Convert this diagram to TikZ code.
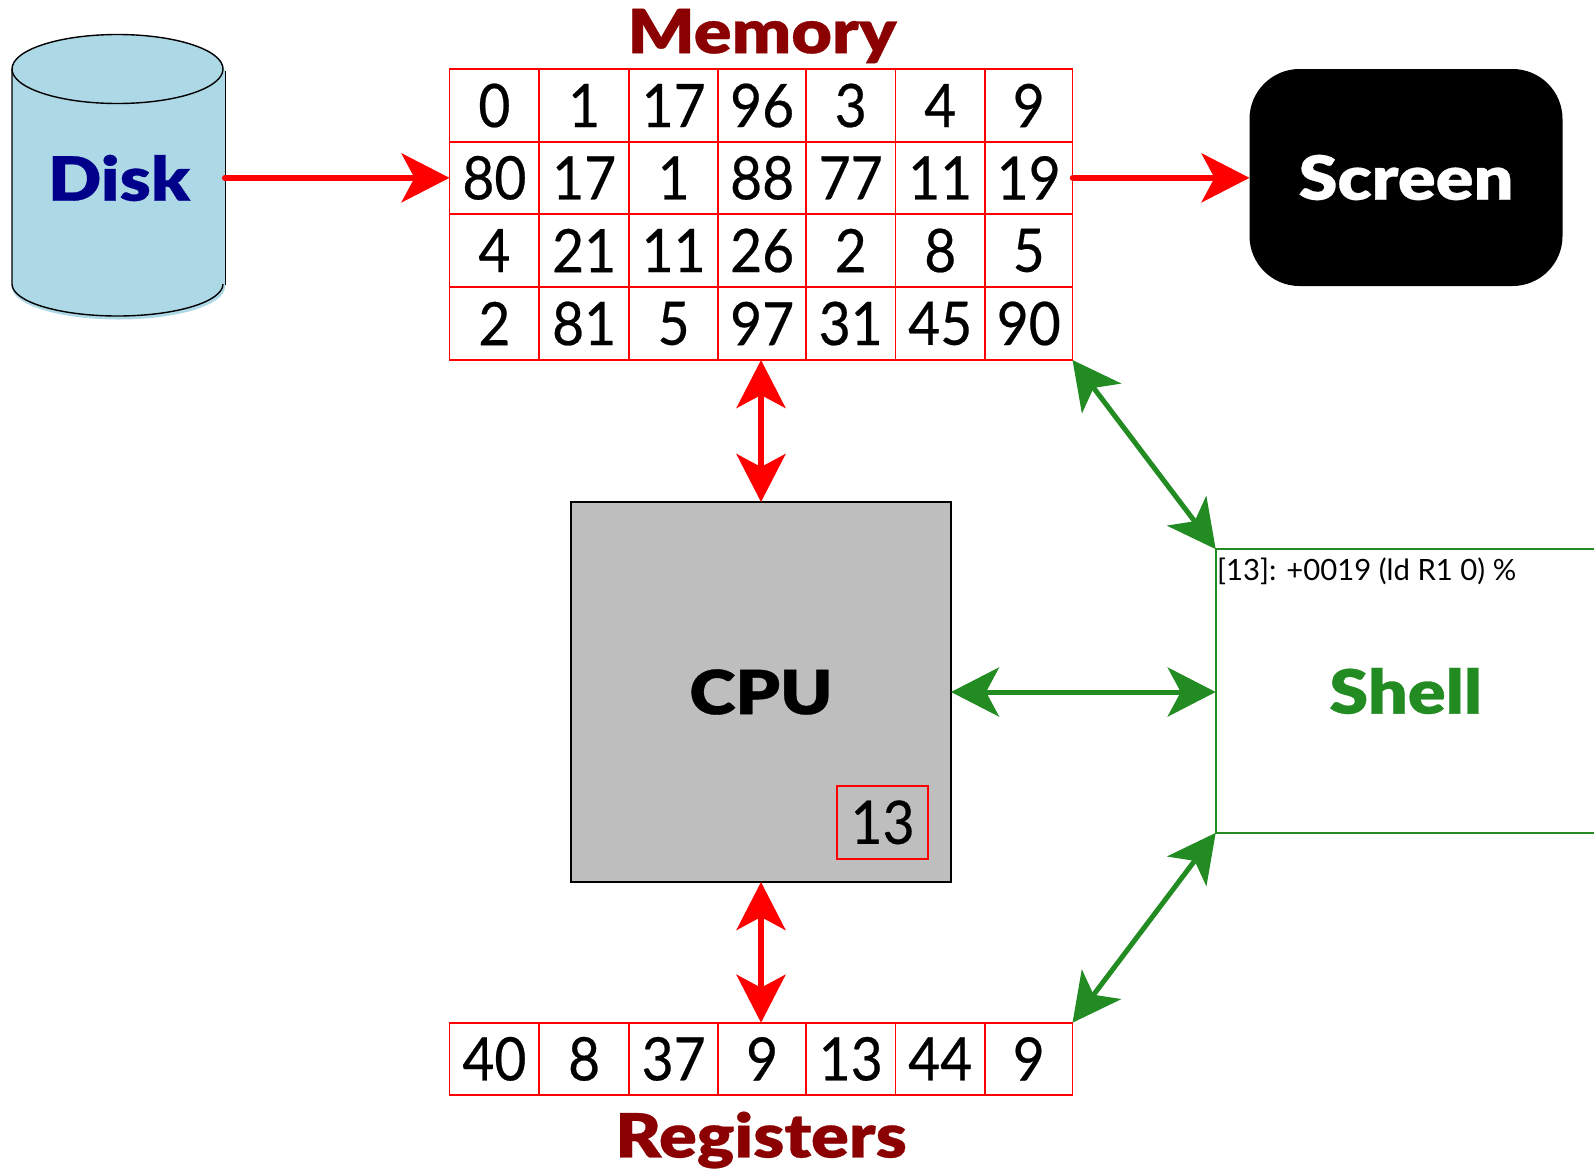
\documentclass[tikz,border=0pt]{standalone}
\usepackage{fontspec}
\usetikzlibrary{arrows.meta}
\setmainfont{Lato}
\newfontfamily\digitfont[FakeStretch=0.92,FakeBold=0.4]{Lato}
\newfontfamily\titlefont[FakeStretch=1.15,FakeBold=0.5]{Lato Black}
\definecolor{diskblue}{HTML}{ADD8E6}
\definecolor{diskink}{HTML}{00008B}
\definecolor{memink}{HTML}{8B0000}
\definecolor{shellgreen}{HTML}{228B22}
\definecolor{cpugray}{HTML}{BEBEBE}
\tikzset{
  x=1pt,y=-1pt,
  cellbox/.style={draw=red,line width=1.9pt,inner sep=0pt,outer sep=0pt,anchor=center,font=\fontsize{60}{60}\selectfont\digitfont,text=black},
  titletext/.style={font=\fontsize{61}{61}\selectfont\titlefont,inner sep=0pt},
  gridframe/.style={inner sep=0pt,outer sep=0pt},
  redarrow/.style={draw=red,line width=5.5pt,line cap=round},
  greenarrow/.style={draw=shellgreen,line width=5pt},
  bigtip/.tip={Stealth[length=48pt,width=49pt,inset=13pt]},
}
\newcommand{\gridrow}[5]{% prefix, ytop, ybottom, row index, list
  \foreach \val [count=\c] in {#5} {
    \pgfmathsetmacro{\xa}{{449.5,539.3,629,718.3,806,895.5,985}[\c-1]}
    \pgfmathsetmacro{\xb}{{539.3,629,718.3,806,895.5,985,1072.5}[\c-1]}
    \pgfmathsetmacro{\cellw}{\xb-\xa}
    \pgfmathsetmacro{\cellh}{#3-#2}
    \pgfmathsetmacro{\xc}{(\xa+\xb)/2}
    \pgfmathsetmacro{\yc}{(#2+#3)/2}
    \node[cellbox,minimum width=\cellw pt,minimum height=\cellh pt] (#1-#4-\c) at (\xc,\yc) {\val};
  }
}
\begin{document}
\begin{tikzpicture}
\useasboundingbox (0,0) rectangle (1594,1171);
% disk
\fill[diskblue] (12,69) arc[x radius=106,y radius=34.5,start angle=180,end angle=360] -- (225,71) -- (225,287)
  arc[x radius=106.5,y radius=32.5,start angle=0,end angle=180] -- cycle;
\draw[line width=1.4pt] (12,69) arc[x radius=105.5,y radius=34.5,start angle=180,end angle=-180];
\draw[line width=1.4pt] (12,69) -- (12,284) arc[x radius=105.5,y radius=32,start angle=180,end angle=0];
\draw[line width=1.4pt] (225.6,71) -- (225.6,285);
\node[titletext,text=diskink,minimum width=211pt,minimum height=288pt] (disk) at (119,178) {Disk};
% memory
\gridrow{m}{69.3}{141.7}{1}{0,1,17,96,3,4,9}
\gridrow{m}{141.7}{214}{2}{80,17,1,88,77,11,19}
\gridrow{m}{214}{287}{3}{4,21,11,26,2,8,5}
\gridrow{m}{287}{360}{4}{2,81,5,97,31,45,90}
\node[gridframe,minimum width=623pt,minimum height=290.7pt] (memgrid) at (761,214.65) {};
\node[titletext,text=memink] (memlabel) at (762,36) {Memory};
% registers
\gridrow{r}{1022.7}{1095}{1}{40,8,37,9,13,44,9}
\node[gridframe,minimum width=623pt,minimum height=72.3pt] (reggrid) at (761,1058.85) {};
\node[titletext,text=memink] (reglabel) at (761,1140) {Registers};
% screen
\node[fill=black,rounded corners=50pt,minimum width=313pt,minimum height=217pt,outer sep=0pt,titletext,text=white] (screen) at (1406,177.5) {Screen};
% cpu
\node[draw=black,fill=cpugray,line width=1.7pt,minimum width=380pt,minimum height=380pt,outer sep=0pt,titletext] (cpu) at (761,692) {CPU};
\node[cellbox,minimum width=90.7pt,minimum height=73.3pt] (cpureg) at (882.6,822.3) {13};
% shell
\node[draw=shellgreen,line width=2pt,minimum width=380pt,minimum height=283.7pt,outer sep=0pt,titletext,text=shellgreen] (shell) at (1405.7,691) {Shell};
\node[anchor=north west,inner sep=0pt,font=\fontsize{29.3}{29.3}\selectfont] (prompt) at (1217,558) {[13]: +0019 (ld R1 0) \%};
% connectors
\draw[redarrow,-bigtip] (disk.east |- m-2-1.west) -- (m-2-1.west);
\draw[redarrow,-bigtip] (m-2-7.east) -- (screen.west |- m-2-7.east);
\draw[redarrow,line cap=butt,bigtip-bigtip] (memgrid.south) -- (cpu.north);
\draw[redarrow,line cap=butt,bigtip-bigtip] (cpu.south) -- (reggrid.north);
\draw[greenarrow,bigtip-bigtip] (cpu.east) -- (shell.west |- cpu.east);
\draw[greenarrow,bigtip-bigtip] (memgrid.south east) -- (shell.north west);
\draw[greenarrow,bigtip-bigtip] (reggrid.north east) -- (shell.south west);
\end{tikzpicture}
\end{document}
